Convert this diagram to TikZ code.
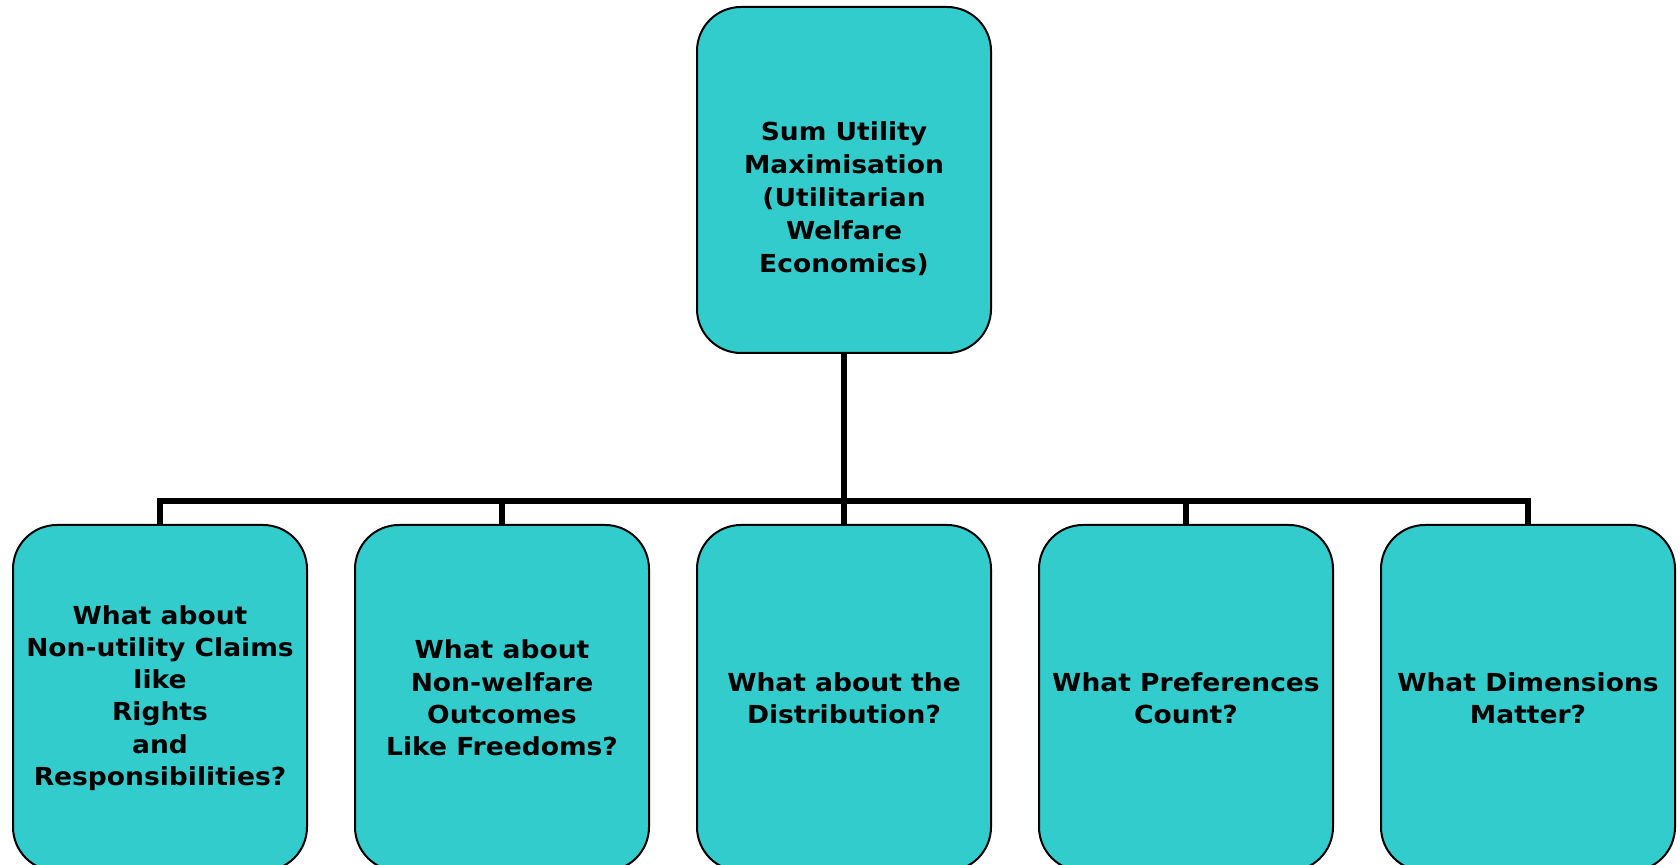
\documentclass[tikz,border=0pt]{standalone}
\usepackage{fontspec}
\setmainfont{DejaVu Sans}[FakeStretch=1.07]
\usepackage{tikz}
\usetikzlibrary{positioning}
\definecolor{boxteal}{HTML}{33CCCC}

\begin{document}
\begin{tikzpicture}
[x=1pt,y=1pt,
every node/.style={font=\bfseries\fontsize{12.4}{16.1}\selectfont,align=center},
qbox/.style={draw=black,line width=1pt,fill=boxteal,rounded corners=22pt,
	minimum width=147pt,minimum height=173pt,inner sep=0pt},
link/.style={line width=3pt,line join=miter}]

\useasboundingbox (0,0) rectangle (840,432.5);

\node[qbox] (sum) at (422,342.5) {\raisebox{-10pt}[\height][\depth]{\begin{tabular}{@{}c@{}}Sum Utility\\[0.3pt]Maximisation\\[0.3pt](Utilitarian\\[0.3pt]Welfare\\[0.3pt]Economics)\end{tabular}}};

\node[qbox] (dist) at (422,83.5) {What about the\\Distribution?};
\node[qbox,left=23pt of dist] (nonwel) {What about\\Non-welfare\\Outcomes\\Like Freedoms?};
\node[qbox,left=23pt of nonwel] (nonutil) {What about\\Non-utility Claims\\like\\Rights\\and\\Responsibilities?};
\node[qbox,right=23pt of dist] (pref) {What Preferences\\Count?};
\node[qbox,right=23pt of pref] (dims) {What Dimensions\\Matter?};

\coordinate (bus) at (0,182.2);

% fork from the top box down to each question
\foreach \q in {nonutil,nonwel,dist,pref,dims}
	\draw[link] (sum.south) -- (sum.south |- bus) -| (\q.north);
\end{tikzpicture}
\end{document}
